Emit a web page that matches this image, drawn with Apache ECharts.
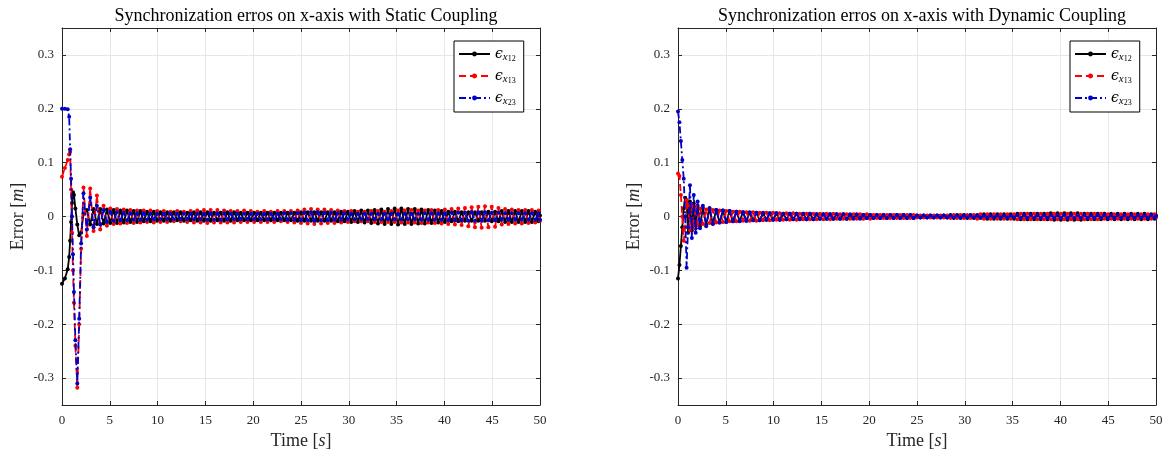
<!DOCTYPE html>
<html>
<head>
<meta charset="utf-8">
<script src="https://cdn.jsdelivr.net/npm/echarts@6/dist/echarts.min.js"></script>
<style>html,body{margin:0;padding:0;background:#fff}#c{width:1175px;height:456px}</style>
</head>
<body>
<div id="c"></div>
<script>
// ---- DATA ----
const titles = ['Synchronization erros on x-axis with Static Coupling', 'Synchronization erros on x-axis with Dynamic Coupling'];
const xTicks = [0, 5, 10, 15, 20, 25, 30, 35, 40, 45, 50];
const yTicks = [-0.3, -0.2, -0.1, 0, 0.1, 0.2, 0.3];
const seriesNames = ['e12', 'e13', 'e23'];

const timeHeadStatic = [0, 0.3, 0.6, 0.75, 0.85, 0.95, 1.05, 1.15, 1.25, 1.4, 1.6, 1.8, 2.0, 2.25, 2.6, 2.95, 3.3, 3.65];
const timeHeadDynamic = [0, 0.15, 0.3, 0.45, 0.6, 0.75, 0.9, 1.05, 1.25, 1.45, 1.65, 1.85, 2.05, 2.3, 2.6, 2.95, 3.3, 3.65];
const timeTail = [
  4.0, 4.35, 4.7, 5.05, 5.4, 5.75, 6.1, 6.45, 6.8, 7.15,
  7.5, 7.85, 8.2, 8.55, 8.9, 9.25, 9.6, 9.95, 10.3, 10.65,
  11.0, 11.35, 11.7, 12.05, 12.4, 12.75, 13.1, 13.45, 13.8, 14.15,
  14.5, 14.85, 15.2, 15.55, 15.9, 16.25, 16.6, 16.95, 17.3, 17.65,
  18.0, 18.35, 18.7, 19.05, 19.4, 19.75, 20.1, 20.45, 20.8, 21.15,
  21.5, 21.85, 22.2, 22.55, 22.9, 23.25, 23.6, 23.95, 24.3, 24.65,
  25.0, 25.35, 25.7, 26.05, 26.4, 26.75, 27.1, 27.45, 27.8, 28.15,
  28.5, 28.85, 29.2, 29.55, 29.9, 30.25, 30.6, 30.95, 31.3, 31.65,
  32.0, 32.35, 32.7, 33.05, 33.4, 33.75, 34.1, 34.45, 34.8, 35.15,
  35.5, 35.85, 36.2, 36.55, 36.9, 37.25, 37.6, 37.95, 38.3, 38.65,
  39.0, 39.35, 39.7, 40.05, 40.4, 40.75, 41.1, 41.45, 41.8, 42.15,
  42.5, 42.85, 43.2, 43.55, 43.9, 44.25, 44.6, 44.95, 45.3, 45.65,
  46.0, 46.35, 46.7, 47.05, 47.4, 47.75, 48.1, 48.45, 48.8, 49.15,
  49.5, 49.85, 50.0
];

// Static coupling
const staticE12 = [
  -0.125, -0.115, -0.098, -0.075, -0.045, -0.01, 0.025, 0.045, 0.04, 0.015, -0.015, -0.035, -0.03, 0.005, 0.012, -0.015, 0.014, -0.014,
  0.014, -0.013, 0.013, -0.012, 0.012, -0.012, 0.011, -0.011, 0.011, -0.010,
  0.010, -0.010, 0.010, -0.009, 0.009, -0.009, 0.009, -0.008, 0.008, -0.008,
  0.008, -0.008, 0.008, -0.007, 0.008, -0.008, 0.007, -0.007, 0.008, -0.008,
  0.008, -0.008, 0.008, -0.008, 0.007, -0.007, 0.007, -0.008, 0.008, -0.008,
  0.008, -0.007, 0.007, -0.007, 0.007, -0.007, 0.007, -0.007, 0.007, -0.007,
  0.007, -0.007, 0.007, -0.007, 0.007, -0.007, 0.007, -0.007, 0.007, -0.008,
  0.008, -0.008, 0.008, -0.008, 0.008, -0.008, 0.008, -0.008, 0.008, -0.008,
  0.008, -0.009, 0.009, -0.009, 0.009, -0.010, 0.010, -0.010, 0.011, -0.011,
  0.011, -0.012, 0.012, -0.013, 0.013, -0.014, 0.014, -0.014, 0.015, -0.015,
  0.015, -0.014, 0.014, -0.014, 0.014, -0.013, 0.013, -0.013, 0.012, -0.012,
  0.011, -0.011, 0.010, -0.010, 0.009, -0.009, 0.009, -0.009, 0.008, -0.008,
  0.008, -0.008, 0.008, -0.008, 0.008, -0.008, 0.009, -0.009, 0.009, -0.009,
  0.010, -0.010, 0.010, -0.010, 0.010, -0.010, 0.010, -0.010, 0.010, -0.010,
  0.009, -0.009, 0.002
];
const staticE13 = [
  0.074, 0.09, 0.105, 0.115, 0.12, 0.05, -0.03, -0.1, -0.16, -0.24, -0.318, -0.2, -0.06, 0.054, -0.036, 0.052, -0.027, 0.039,
  -0.024, 0.020, -0.017, 0.015, -0.014, 0.014, -0.013, 0.013, -0.012, 0.012,
  -0.012, 0.011, -0.011, 0.011, -0.010, 0.011, -0.011, 0.010, -0.010, 0.010,
  -0.010, 0.009, -0.009, 0.010, -0.009, 0.009, -0.010, 0.010, -0.011, 0.011,
  -0.011, 0.012, -0.012, 0.012, -0.011, 0.012, -0.011, 0.011, -0.011, 0.010,
  -0.011, 0.010, -0.010, 0.011, -0.010, 0.010, -0.010, 0.009, -0.010, 0.010,
  -0.010, 0.009, -0.010, 0.010, -0.009, 0.010, -0.010, 0.010, -0.011, 0.011,
  -0.012, 0.013, -0.013, 0.014, -0.014, 0.013, -0.013, 0.013, -0.012, 0.012,
  -0.012, 0.011, -0.011, 0.010, -0.010, 0.010, -0.009, 0.009, -0.009, 0.009,
  -0.009, 0.010, -0.010, 0.010, -0.010, 0.009, -0.010, 0.010, -0.010, 0.011,
  -0.011, 0.011, -0.011, 0.012, -0.011, 0.011, -0.012, 0.011, -0.011, 0.012,
  -0.012, 0.012, -0.013, 0.013, -0.014, 0.014, -0.015, 0.015, -0.016, 0.016,
  -0.018, 0.017, -0.020, 0.018, -0.021, 0.019, -0.020, 0.018, -0.019, 0.016,
  -0.015, 0.014, -0.014, 0.013, -0.013, 0.012, -0.013, 0.012, -0.012, 0.012,
  -0.011, 0.011, -0.008
];
const staticE23 = [
  0.2, 0.2, 0.199, 0.185, 0.125, 0.07, 0.0, -0.07, -0.14, -0.23, -0.31, -0.19, -0.05, 0.043, -0.024, 0.035, -0.02, 0.02,
  -0.015, 0.012, -0.010, 0.009, -0.008, 0.008, -0.007, 0.007, -0.007, 0.006,
  -0.006, 0.006, -0.006, 0.006, -0.006, 0.005, -0.005, 0.005, -0.005, 0.005,
  -0.005, 0.005, -0.005, 0.005, -0.005, 0.005, -0.005, 0.005, -0.005, 0.005,
  -0.005, 0.005, -0.006, 0.006, -0.006, 0.006, -0.006, 0.006, -0.005, 0.005,
  -0.005, 0.005, -0.005, 0.005, -0.005, 0.005, -0.005, 0.005, -0.005, 0.005,
  -0.005, 0.005, -0.005, 0.005, -0.005, 0.006, -0.006, 0.006, -0.006, 0.006,
  -0.007, 0.007, -0.007, 0.008, -0.008, 0.008, -0.007, 0.007, -0.007, 0.007,
  -0.006, 0.006, -0.006, 0.006, -0.005, 0.005, -0.005, 0.005, -0.005, 0.005,
  -0.005, 0.005, -0.005, 0.005, -0.005, 0.005, -0.005, 0.005, -0.005, 0.005,
  -0.005, 0.005, -0.005, 0.005, -0.005, 0.005, -0.006, 0.006, -0.006, 0.006,
  -0.006, 0.006, -0.006, 0.006, -0.007, 0.007, -0.007, 0.007, -0.007, 0.007,
  -0.008, 0.008, -0.008, 0.008, -0.008, 0.008, -0.007, 0.007, -0.007, 0.007,
  -0.006, 0.006, -0.006, 0.006, -0.006, 0.006, -0.006, 0.006, -0.006, 0.006,
  -0.006, 0.006, -0.006
];

// Dynamic coupling
const dynamicE12 = [
  -0.115, -0.09, -0.055, -0.02, 0.015, 0.035, 0.03, -0.03, 0.028, -0.026, 0.024, -0.022, 0.02, -0.018, 0.016, -0.015, 0.014, -0.013,
  0.012, -0.011, 0.011, -0.010, 0.010, -0.009, 0.009, -0.008, 0.008, -0.008,
  0.007, -0.007, 0.007, -0.007, 0.006, -0.006, 0.006, -0.006, 0.006, -0.006,
  0.005, -0.005, 0.005, -0.005, 0.005, -0.005, 0.005, -0.005, 0.005, -0.005,
  0.004, -0.004, 0.004, -0.004, 0.004, -0.004, 0.004, -0.004, 0.004, -0.004,
  0.003, -0.003, 0.003, -0.003, 0.003, -0.003, 0.003, -0.003, 0.003, -0.003,
  0.003, -0.003, 0.003, -0.003, 0.003, -0.003, 0.003, -0.003, 0.003, -0.003,
  0.002, -0.002, 0.002, -0.002, 0.002, -0.002, 0.002, -0.002, 0.002, -0.002,
  0.003, -0.003, 0.003, -0.003, 0.003, -0.003, 0.003, -0.003, 0.003, -0.003,
  0.004, -0.004, 0.004, -0.004, 0.004, -0.004, 0.004, -0.004, 0.004, -0.004,
  0.005, -0.005, 0.005, -0.005, 0.005, -0.005, 0.005, -0.005, 0.005, -0.005,
  0.006, -0.006, 0.006, -0.006, 0.006, -0.006, 0.006, -0.006, 0.006, -0.006,
  0.005, -0.005, 0.005, -0.005, 0.005, -0.005, 0.005, -0.005, 0.005, -0.005,
  0.005, -0.005, 0.005, -0.005, 0.005, -0.005, 0.005, -0.005, 0.005, -0.005,
  0.004, -0.004, 0.002
];
const dynamicE13 = [
  0.08, 0.075, 0.04, 0.0, -0.045, -0.02, 0.03, 0.02, -0.025, 0.022, -0.02, 0.018, -0.016, 0.015, -0.014, 0.013, -0.012, 0.012,
  -0.011, 0.011, -0.010, 0.010, -0.009, 0.009, -0.009, 0.009, -0.008, 0.008,
  -0.008, 0.008, -0.008, 0.007, -0.007, 0.007, -0.007, 0.007, -0.006, 0.006,
  -0.006, 0.006, -0.006, 0.006, -0.006, 0.005, -0.005, 0.005, -0.005, 0.005,
  -0.005, 0.005, -0.005, 0.005, -0.005, 0.005, -0.004, 0.004, -0.004, 0.004,
  -0.004, 0.004, -0.004, 0.004, -0.004, 0.004, -0.004, 0.003, -0.003, 0.003,
  -0.003, 0.003, -0.003, 0.003, -0.003, 0.003, -0.003, 0.003, -0.003, 0.003,
  -0.002, 0.002, -0.002, 0.002, -0.002, 0.002, -0.002, 0.002, -0.002, 0.002,
  -0.003, 0.003, -0.003, 0.003, -0.003, 0.003, -0.003, 0.003, -0.004, 0.004,
  -0.004, 0.004, -0.004, 0.004, -0.004, 0.004, -0.004, 0.004, -0.004, 0.004,
  -0.005, 0.005, -0.005, 0.005, -0.005, 0.005, -0.005, 0.005, -0.005, 0.005,
  -0.005, 0.005, -0.005, 0.005, -0.005, 0.005, -0.005, 0.005, -0.005, 0.005,
  -0.005, 0.005, -0.005, 0.005, -0.005, 0.005, -0.004, 0.004, -0.004, 0.004,
  -0.004, 0.004, -0.004, 0.004, -0.004, 0.004, -0.004, 0.004, -0.004, 0.004,
  -0.004, 0.004, -0.002
];
const dynamicE23 = [
  0.195, 0.175, 0.14, 0.105, 0.07, 0.0, -0.095, -0.02, 0.058, -0.04, 0.04, -0.03, 0.028, -0.022, 0.02, -0.018, 0.016, -0.014,
  0.012, -0.011, 0.011, -0.010, 0.010, -0.009, 0.009, -0.009, 0.008, -0.008,
  0.008, -0.007, 0.007, -0.007, 0.007, -0.006, 0.006, -0.006, 0.006, -0.006,
  0.005, -0.005, 0.005, -0.005, 0.005, -0.005, 0.005, -0.005, 0.005, -0.005,
  0.004, -0.004, 0.004, -0.004, 0.004, -0.004, 0.004, -0.004, 0.004, -0.004,
  0.004, -0.004, 0.004, -0.004, 0.003, -0.003, 0.003, -0.003, 0.003, -0.003,
  0.003, -0.003, 0.003, -0.003, 0.003, -0.003, 0.003, -0.003, 0.003, -0.003,
  0.002, -0.002, 0.002, -0.002, 0.002, -0.002, 0.002, -0.002, 0.002, -0.002,
  0.002, -0.002, 0.002, -0.002, 0.002, -0.002, 0.002, -0.002, 0.002, -0.002,
  0.002, -0.002, 0.002, -0.002, 0.002, -0.002, 0.002, -0.002, 0.002, -0.002,
  0.003, -0.003, 0.003, -0.003, 0.003, -0.003, 0.003, -0.003, 0.003, -0.003,
  0.003, -0.003, 0.003, -0.003, 0.003, -0.003, 0.003, -0.003, 0.003, -0.003,
  0.003, -0.003, 0.003, -0.003, 0.003, -0.003, 0.003, -0.003, 0.003, -0.003,
  0.003, -0.003, 0.003, -0.003, 0.003, -0.003, 0.003, -0.003, 0.003, -0.003,
  0.003, -0.003, 0.001
];

// ---- BUILD ----
const timeStatic = timeHeadStatic.concat(timeTail);
const timeDynamic = timeHeadDynamic.concat(timeTail);
function pairs(times, vals) { return times.map((t, i) => [t, vals[i]]); }

const SERIF = 'Liberation Serif';
const AXC = '#262626';
const GRIDC = '#e6e6e6';
const grids = [
  { left: 62, right: 635, top: 28, bottom: 51 },
  { left: 678, right: 19, top: 28, bottom: 51 }
];
const styles = [
  { color: '#000000', type: 'solid', z: 2 },
  { color: '#ff0000', type: [7, 4], z: 3 },
  { color: '#0000c8', type: [7, 3, 2, 3], z: 4 }
];
const nameStyle = { fontFamily: SERIF, fontSize: 18, color: AXC, rich: { i: { fontFamily: SERIF, fontSize: 18, fontStyle: 'italic', color: AXC } } };

function xAxes(g) {
  return [
    {
      gridIndex: g, type: 'value', min: 0, max: 50, interval: 5, position: 'bottom',
      name: 'Time [{i|s}]', nameLocation: 'middle', nameGap: 25, nameTextStyle: nameStyle,
      axisLine: { show: true, onZero: false, lineStyle: { color: AXC, width: 1 } },
      axisTick: { show: true, inside: true, length: 4, lineStyle: { color: AXC } },
      axisLabel: { fontFamily: SERIF, fontSize: 13, color: AXC, margin: 9 },
      splitLine: { show: true, lineStyle: { color: GRIDC, width: 1 } }
    },
    {
      gridIndex: g, type: 'value', min: 0, max: 50, interval: 5, position: 'top',
      axisLine: { show: true, onZero: false, lineStyle: { color: AXC, width: 1 } },
      axisTick: { show: true, inside: true, length: 4, lineStyle: { color: AXC } },
      axisLabel: { show: false }, splitLine: { show: false }
    }
  ];
}
function yAxes(g) {
  return [
    {
      gridIndex: g, type: 'value', min: -0.35, max: 0.35, position: 'left',
      name: 'Error [{i|m}]', nameLocation: 'middle', nameGap: 35, nameTextStyle: nameStyle,
      axisLine: { show: true, onZero: false, lineStyle: { color: AXC, width: 1 } },
      axisTick: { show: true, inside: true, length: 4, lineStyle: { color: AXC }, customValues: yTicks },
      axisLabel: { fontFamily: SERIF, fontSize: 13, color: AXC, margin: 8, customValues: yTicks },
      splitLine: { show: true, lineStyle: { color: GRIDC, width: 1 } }
    },
    {
      gridIndex: g, type: 'value', min: -0.35, max: 0.35, position: 'right',
      axisLine: { show: true, onZero: false, lineStyle: { color: AXC, width: 1 } },
      axisTick: { show: true, inside: true, length: 4, lineStyle: { color: AXC }, customValues: yTicks },
      axisLabel: { show: false }, splitLine: { show: false }
    }
  ];
}

const dataSets = [
  [pairs(timeStatic, staticE12), pairs(timeStatic, staticE13), pairs(timeStatic, staticE23)],
  [pairs(timeDynamic, dynamicE12), pairs(timeDynamic, dynamicE13), pairs(timeDynamic, dynamicE23)]
];
const series = [];
for (let g = 0; g < 2; g++) {
  for (let k = 0; k < 3; k++) {
    series.push({
      name: seriesNames[k], type: 'line', xAxisIndex: g * 2, yAxisIndex: g * 2,
      data: dataSets[g][k], z: styles[k].z,
      symbol: 'circle', symbolSize: 4, showSymbol: true, showAllSymbol: true,
      lineStyle: { color: styles[k].color, width: 1.8, type: styles[k].type },
      itemStyle: { color: styles[k].color },
      animation: false, silent: true
    });
  }
}

const legendRich = {
  e: { fontFamily: 'DejaVu Serif', fontStyle: 'italic', fontSize: 14, lineHeight: 18, color: '#000' },
  x: { fontFamily: SERIF, fontStyle: 'italic', fontSize: 11, lineHeight: 12, verticalAlign: 'bottom', color: '#000' },
  n: { fontFamily: SERIF, fontSize: 8, lineHeight: 7, verticalAlign: 'bottom', color: '#000' }
};
const legendLabels = { e12: '{e|ϵ}{x|x}{n|12}', e13: '{e|ϵ}{x|x}{n|13}', e23: '{e|ϵ}{x|x}{n|23}' };
function legend(left) {
  return {
    data: seriesNames, orient: 'vertical', left: left, top: 41,
    itemWidth: 31, itemHeight: 6, itemGap: 6,
    padding: [6, 8, 5, 4],
    backgroundColor: '#fff', borderColor: '#000', borderWidth: 1,
    formatter: n => legendLabels[n],
    textStyle: { rich: legendRich }
  };
}

const chart = echarts.init(document.getElementById('c'), null, { renderer: 'canvas' });
const titleStyle = { fontFamily: SERIF, fontSize: 18, fontWeight: 'normal', color: '#000' };
chart.setOption({
  animation: false,
  backgroundColor: '#fff',
  title: [
    { text: titles[0], left: 301, top: 2, textAlign: 'center', textStyle: titleStyle },
    { text: titles[1], left: 917, top: 2, textAlign: 'center', textStyle: titleStyle }
  ],
  legend: [legend(454), legend(1070)],
  grid: grids,
  xAxis: xAxes(0).concat(xAxes(1)),
  yAxis: yAxes(0).concat(yAxes(1)),
  series: series
});
</script>
</body>
</html>
